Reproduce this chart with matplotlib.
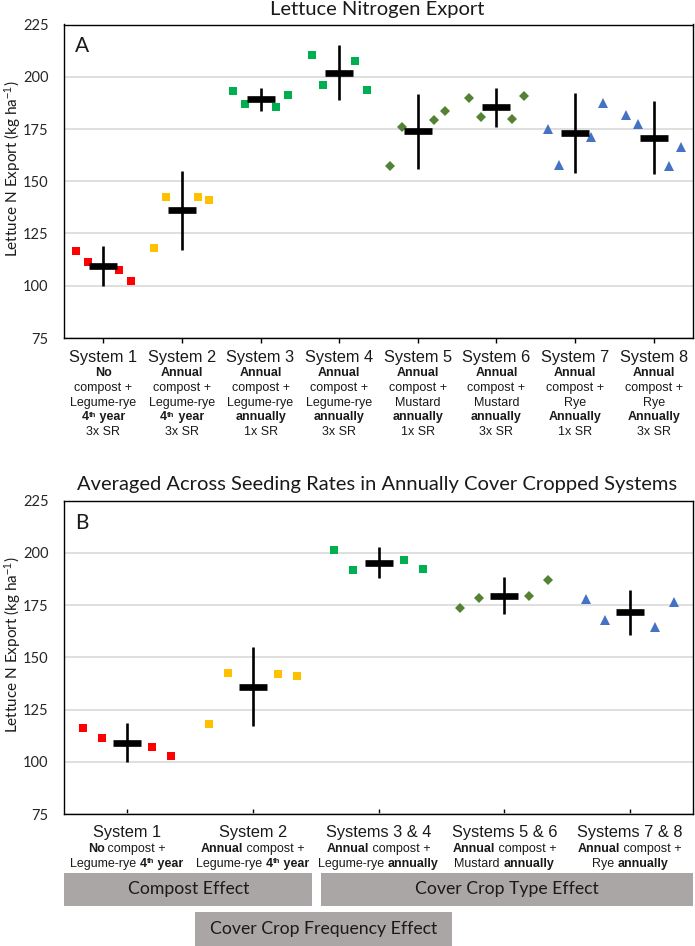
import re
import matplotlib
matplotlib.use("Agg")
import matplotlib.pyplot as plt
from matplotlib.patches import Rectangle
from matplotlib.transforms import blended_transform_factory
from matplotlib.font_manager import FontProperties
import numpy as np

plt.rcParams['mathtext.fontset'] = 'custom'
plt.rcParams['mathtext.rm'] = 'Liberation Sans'
plt.rcParams['mathtext.bf'] = 'Liberation Sans:bold'
plt.rcParams['mathtext.it'] = 'Liberation Sans:italic'
plt.rcParams['mathtext.sf'] = 'Liberation Sans'

# ---------------- data ----------------
title_a = 'Lettuce Nitrogen Export'
title_b = 'Averaged Across Seeding Rates in Annually Cover Cropped Systems'
ylabel = r'Lettuce N Export (kg ha$^{-1}$)'
yticks = [75, 100, 125, 150, 175, 200, 225]

# '*' toggles bold, '^{..}' is a superscript
a_names = ['System 1', 'System 2', 'System 3', 'System 4',
           'System 5', 'System 6', 'System 7', 'System 8']
a_desc = [
    ['*No*', 'compost +', 'Legume-rye', '*4^{th} year*', '3x SR'],
    ['*Annual*', 'compost +', 'Legume-rye', '*4^{th} year*', '3x SR'],
    ['*Annual*', 'compost +', 'Legume-rye', '*annually*', '1x SR'],
    ['*Annual*', 'compost +', 'Legume-rye', '*annually*', '3x SR'],
    ['*Annual*', 'compost +', 'Mustard', '*annually*', '1x SR'],
    ['*Annual*', 'compost +', 'Mustard', '*annually*', '3x SR'],
    ['*Annual*', 'compost +', 'Rye', '*Annually*', '1x SR'],
    ['*Annual*', 'compost +', 'Rye', '*Annually*', '3x SR'],
]
a_points = [
    [116.5, 111.4, 107.4, 102.3],
    [118.2, 142.7, 142.3, 140.9],
    [193.1, 187.2, 185.6, 191.4],
    [210.2, 196.0, 207.5, 193.6],
    [157.5, 176.0, 179.1, 183.4],
    [189.7, 180.8, 179.9, 190.6],
    [174.8, 157.8, 171.3, 187.4],
    [181.5, 177.5, 157.5, 166.5],
]
a_means = [109.3, 136.1, 189.3, 201.9, 173.9, 185.3, 173.0, 170.9]
a_errs = [9.5, 19.0, 5.5, 13.2, 18.0, 9.2, 19.0, 17.4]
a_colors = ['#FF0000', '#FFC000', '#00B050', '#00B050',
            '#548235', '#548235', '#4472C4', '#4472C4']
a_markers = ['s', 's', 's', 's', 'D', 'D', '^', '^']

b_names = ['System 1', 'System 2', 'Systems 3 & 4', 'Systems 5 & 6', 'Systems 7 & 8']
b_desc = [
    ['*No* compost +', 'Legume-rye *4^{th} year*'],
    ['*Annual* compost +', 'Legume-rye *4^{th} year*'],
    ['*Annual* compost +', 'Legume-rye *annually*'],
    ['*Annual* compost +', 'Mustard *annually*'],
    ['*Annual* compost +', 'Rye *annually*'],
]
b_points = [
    [116.2, 111.3, 107.1, 102.7],
    [118.1, 142.5, 142.2, 140.9],
    [201.4, 191.6, 196.5, 192.5],
    [173.6, 178.2, 179.3, 186.8],
    [178.0, 167.7, 164.5, 176.4],
]
b_means = [109.2, 136.0, 195.4, 179.6, 171.6]
b_errs = [9.5, 19.0, 7.2, 8.8, 10.8]
b_colors = ['#FF0000', '#FFC000', '#00B050', '#548235', '#4472C4']
b_markers = ['s', 's', 's', 'D', '^']

box_labels = ['Compost Effect', 'Cover Crop Type Effect', 'Cover Crop Frequency Effect']

# ---------------- layout ----------------
W, H = 695, 946
offsets = [-0.35, -0.2, 0.2, 0.35]
marker_sizes = {'s': 5.3, 'D': 4.8, '^': 7.0}
calib = 'Lato'
arial = 'Liberation Sans'
DESC_FS = 9.0
SUP_FS = 5.6
SUP_RISE = 3.6  # px
TXT = '#1a1a1a'

fig = plt.figure(figsize=(W / 100, H / 100), dpi=100)
fig.patch.set_facecolor('white')
renderer = fig.canvas.get_renderer()


def px_axes(left, top, right, bottom):
    return fig.add_axes([left / W, 1 - bottom / H, (right - left) / W, (bottom - top) / H])


def text_width(s, fp):
    w1 = renderer.get_text_width_height_descent('x' + s + 'x', fp, ismath=False)[0]
    w0 = renderer.get_text_width_height_descent('xx', fp, ismath=False)[0]
    return w1 - w0


def parse(line):
    segs = []
    bold = False
    for tok in re.split(r'(\*|\^\{[^}]*\})', line):
        if tok == '*':
            bold = not bold
        elif tok.startswith('^{'):
            segs.append((tok[2:-1], bold, True))
        elif tok:
            segs.append((tok, bold, False))
    return segs


def rich_line(ax, tr, x, base_px, line):
    segs = parse(line)
    items = []
    for txt, bold, sup in segs:
        fp = FontProperties(family=arial, weight='bold' if bold else 'normal',
                            size=SUP_FS if sup else DESC_FS)
        items.append((txt, fp, sup, text_width(txt, fp)))
    total = sum(it[3] for it in items)
    cur = -total / 2
    for txt, fp, sup, w in items:
        dy = -base_px + (SUP_RISE if sup else 0)
        ax.annotate(txt, xy=(x, 0), xycoords=tr, xytext=(cur * 0.72, dy * 0.72),
                    textcoords='offset points', ha='left', va='baseline',
                    fontproperties=fp, color=TXT, annotation_clip=False)
        cur += w


def setup(ax, n, letter, tickdir):
    ax.set_xlim(-0.5, n - 0.5)
    ax.set_ylim(75, 225)
    ax.set_yticks(yticks)
    ax.set_yticklabels([str(t) for t in yticks], fontfamily=calib, fontsize=10.5, color='#262626')
    ax.tick_params(axis='y', length=0, pad=11)
    ax.set_xticks(range(n))
    ax.set_xticklabels([''] * n)
    ax.tick_params(axis='x', direction=tickdir, length=3.5, width=1, color='black')
    ax.yaxis.grid(True, color='#D9D9D9', lw=1.2)
    ax.set_axisbelow(True)
    for s in ax.spines.values():
        s.set_color('black')
        s.set_linewidth(1.0)
    ax.set_ylabel(ylabel, fontfamily=calib, fontsize=11, color=TXT)
    ax.yaxis.set_label_coords(-0.063, 0.54)
    ax.text(0.017, 0.93, letter, transform=ax.transAxes, fontfamily=calib, fontsize=15,
            ha='left', va='center', color=TXT)


def draw(ax, points, means, errs, colors, markers):
    for i, (pts, m, e, c, mk) in enumerate(zip(points, means, errs, colors, markers)):
        xs = [i + o for o in offsets]
        ax.plot(xs, pts, linestyle='none', marker=mk, color=c,
                markersize=marker_sizes[mk], markeredgewidth=0, zorder=3)
        ax.errorbar([i], [m], yerr=[e], fmt='none', ecolor='black', elinewidth=1.9,
                    capsize=0, zorder=4)
        ax.plot([i], [m], linestyle='none', marker='_', color='black',
                markersize=19.5, markeredgewidth=4.8, zorder=5)


# Panel A
axA = px_axes(64, 24.5, 693, 338)
setup(axA, 8, 'A', 'out')
draw(axA, a_points, a_means, a_errs, a_colors, a_markers)
trA = blended_transform_factory(axA.transData, axA.transAxes)
for i, (name, desc) in enumerate(zip(a_names, a_desc)):
    axA.annotate(name, xy=(i, 0), xycoords=trA, xytext=(0, -23.7 * 0.72),
                 textcoords='offset points', ha='center', va='baseline',
                 fontfamily=arial, fontsize=11.8, color=TXT)
    for j, line in enumerate(desc):
        rich_line(axA, trA, i, 38 + 14.8 * j, line)
fig.text(377 / W, 1 - 9.5 / H, title_a, ha='center', va='center',
         fontfamily=calib, fontsize=14.5, color=TXT)

# Panel B
axB = px_axes(64, 500.7, 693, 814)
setup(axB, 5, 'B', 'in')
draw(axB, b_points, b_means, b_errs, b_colors, b_markers)
trB = blended_transform_factory(axB.transData, axB.transAxes)
for i, (name, desc) in enumerate(zip(b_names, b_desc)):
    axB.annotate(name, xy=(i, 0), xycoords=trB, xytext=(0, -22.7 * 0.72),
                 textcoords='offset points', ha='center', va='baseline',
                 fontfamily=arial, fontsize=11.8, color=TXT)
    for j, line in enumerate(desc):
        rich_line(axB, trB, i, 38 + 14.8 * j, line)
fig.text(377 / W, 1 - 484 / H, title_b, ha='center', va='center',
         fontfamily=calib, fontsize=14.5, color=TXT)

# Effect boxes (pixel layout)
boxes = [(64.3, 872.7, 312.3, 906.0), (321.0, 872.7, 693.0, 906.0), (195.0, 912.3, 452.3, 946.0)]
for (l, t, r, b), lab in zip(boxes, box_labels):
    fig.patches.append(Rectangle((l / W, 1 - b / H), (r - l) / W, (b - t) / H,
                                 transform=fig.transFigure, facecolor='#A9A6A5',
                                 edgecolor='none', zorder=0))
    fig.text((l + r) / 2 / W, 1 - (t + b) / 2 / H, lab, ha='center', va='center',
             fontfamily=calib, fontsize=12.7, color=TXT)

fig.savefig('out.png', dpi=100, facecolor='white')
